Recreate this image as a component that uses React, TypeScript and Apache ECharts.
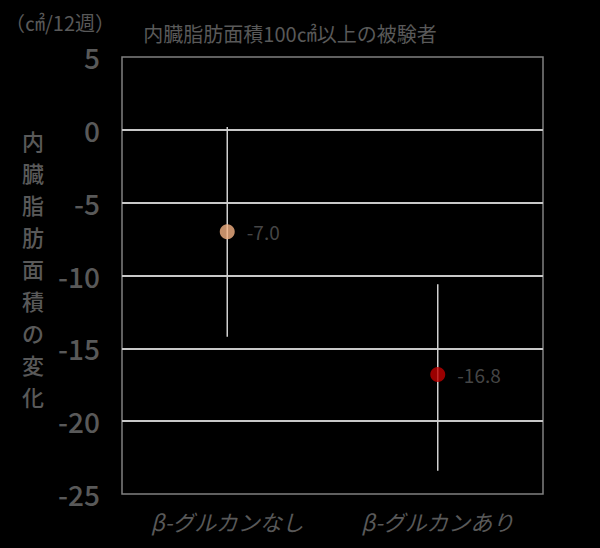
import React, { useEffect, useRef } from 'react';
import * as echarts from 'echarts';

const categories = ['β-グルカンなし', 'β-グルカンあり'];
const means = [-7.0, -16.8];
const upper = [0.2, -10.6];
const lower = [-14.2, -23.4];
const pointColors = ['#f4b183', '#c00000'];
const yName = '内臓脂肪面積の変化';

const TEXT = '#595959';
const FONT = '"Noto Sans CJK JP", "Noto Sans", sans-serif';

const App: React.FC = () => {
  const chartRef = useRef<HTMLDivElement>(null);

  useEffect(() => {
    if (!chartRef.current) return;
    document.body.style.margin = '0';
    document.body.style.background = '#000';
    const chart = echarts.init(chartRef.current, null, { renderer: 'svg' });

    // 縦書きの軸名は1文字ずつ置く
    const yNameChars = yName.split('').map((ch, i) => ({
      type: 'text' as const,
      left: 22,
      top: 129 + i * 32,
      style: { text: ch, fill: TEXT, fontSize: 22, fontWeight: 500, fontFamily: FONT },
    }));

    const option: echarts.EChartsOption = {
      animation: false,
      backgroundColor: '#000000',
      textStyle: { fontFamily: FONT },
      title: {
        text: '内臓脂肪面積100㎠以上の被験者',
        left: 285,
        top: 18,
        textAlign: 'center',
        textStyle: { color: TEXT, fontSize: 20, fontWeight: 'normal', fontFamily: FONT },
      },
      graphic: [
        {
          type: 'text',
          left: 5,
          top: 12,
          style: { text: '（㎠/12週）', fill: TEXT, fontSize: 20, fontFamily: FONT },
        },
        ...yNameChars,
      ],
      grid: {
        left: 122,
        right: 57,
        top: 57,
        bottom: 54,
        show: true,
        borderColor: '#808080',
        borderWidth: 1.5,
        backgroundColor: 'transparent',
      },
      xAxis: {
        type: 'category',
        data: categories,
        boundaryGap: true,
        axisLine: { show: false },
        axisTick: { show: false },
        axisLabel: {
          color: TEXT,
          fontSize: 22,
          fontStyle: 'italic',
          margin: 16,
          fontFamily: FONT,
        },
      },
      yAxis: {
        type: 'value',
        min: -25,
        max: 5,
        interval: 5,
        axisLine: { show: false },
        axisTick: { show: false },
        axisLabel: { color: TEXT, fontSize: 28, fontWeight: 500, margin: 22, fontFamily: FONT },
        splitLine: {
          show: true,
          showMinLine: false,
          showMaxLine: false,
          lineStyle: { color: '#c8c8c8', width: 2 },
        },
      },
      series: [
        {
          type: 'custom',
          name: 'error',
          data: categories.map((_, i) => [i, lower[i], upper[i]]),
          renderItem: (params: any, api: any) => {
            const i = api.value(0);
            const lo = api.coord([i, api.value(1)]);
            const hi = api.coord([i, api.value(2)]);
            return {
              type: 'line',
              shape: { x1: lo[0], y1: lo[1], x2: hi[0], y2: hi[1] },
              style: { stroke: '#d0d0d0', lineWidth: 1.5 },
            };
          },
          z: 2,
        },
        {
          type: 'scatter',
          name: 'mean',
          symbolSize: 15,
          data: means.map((v, i) => ({ value: v, itemStyle: { color: pointColors[i] } })),
          label: {
            show: true,
            position: 'right',
            distance: 12,
            color: TEXT,
            fontSize: 19,
            fontFamily: FONT,
            formatter: (p: any) => Number(p.value).toFixed(1),
          },
          z: 3,
        },
      ],
    };

    chart.setOption(option);
    return () => {
      chart.dispose();
    };
  }, []);

  return <div ref={chartRef} style={{ width: 600, height: 548 }} />;
};

export default App;
